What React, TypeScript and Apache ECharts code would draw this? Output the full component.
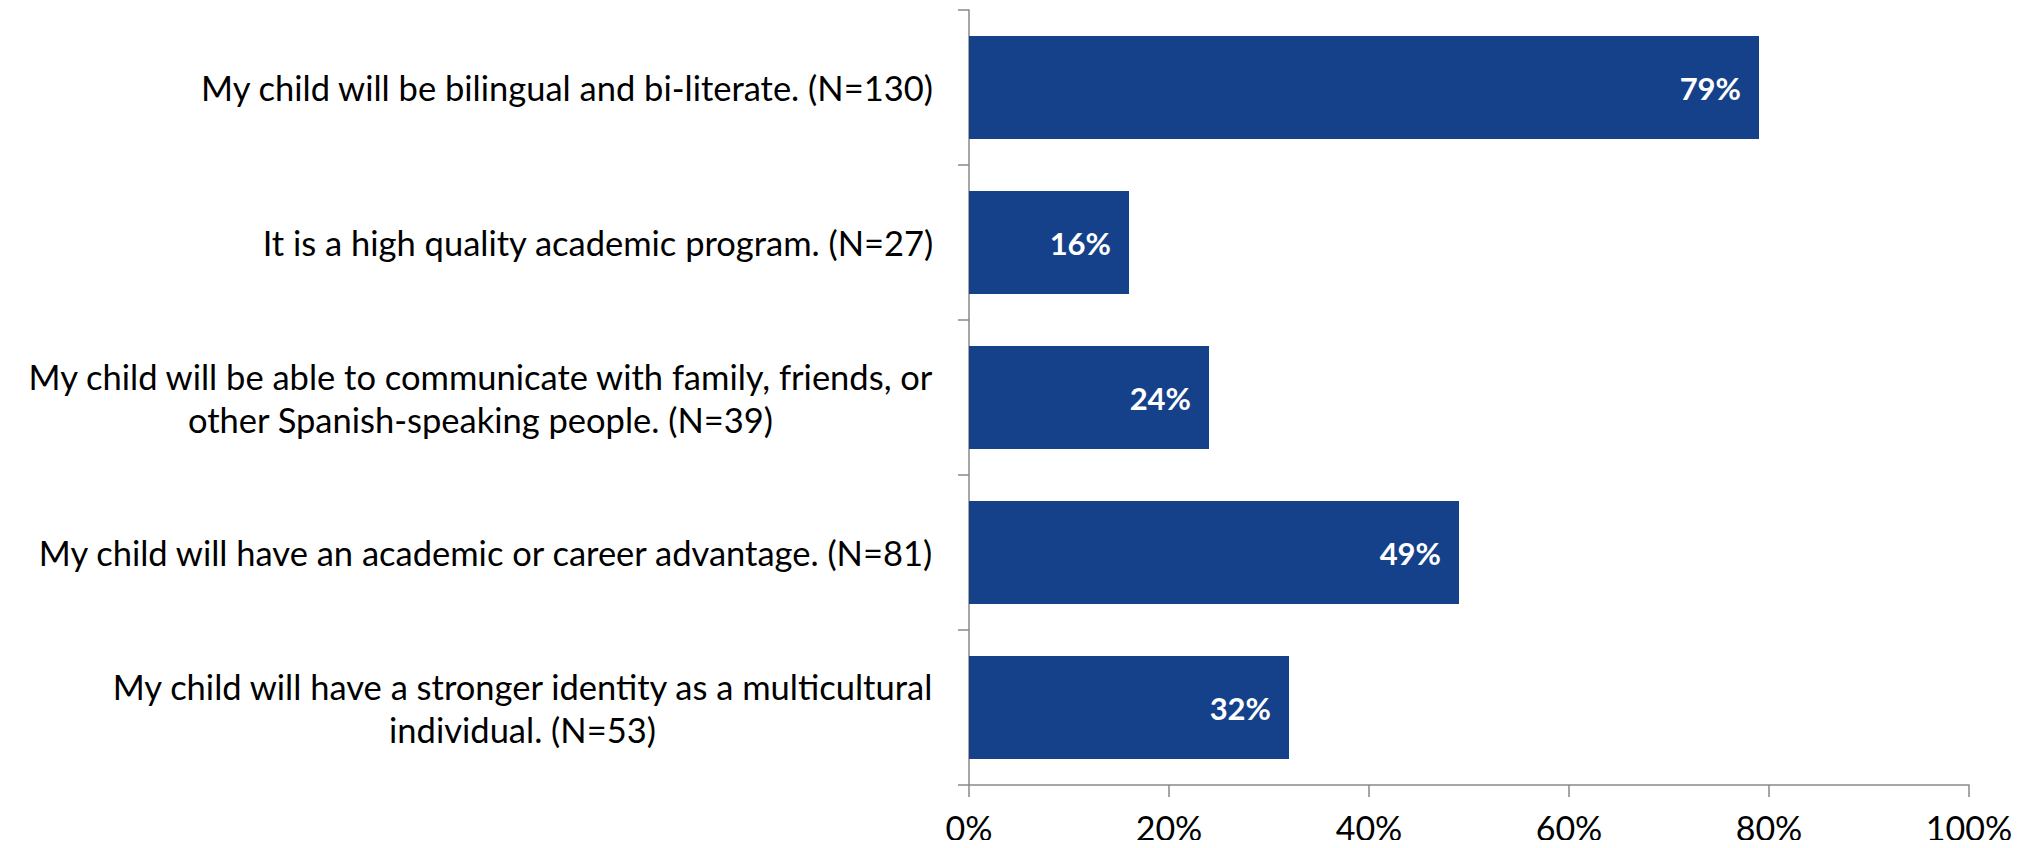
import React, { useEffect, useRef } from "react";
import * as echarts from "echarts";

const categories: string[] = [
  "My child will be bilingual and bi-literate. (N=130)",
  "It is a high quality academic program. (N=27)",
  "My child will be able to communicate with family, friends, or\nother Spanish-speaking people. (N=39)",
  "My child will have an academic or career advantage. (N=81)",
  "My child will have a stronger identity as a multicultural\nindividual. (N=53)",
];
const values: number[] = [79, 16, 24, 49, 32];
const xTicks: number[] = [0, 20, 40, 60, 80, 100];

const FONT = "Lato";
const CAT_SIZE = 34.5;
const TICK_SIZE = 34;
const BAR_COLOR = "#15418A";
const AXIS_COLOR = "#898989";

function measure(text: string, size: number, weight = "normal"): number {
  const c = document.createElement("canvas");
  const ctx = c.getContext("2d");
  if (!ctx) return text.length * size * 0.5;
  ctx.font = `${weight} ${size}px ${FONT}`;
  return ctx.measureText(text).width;
}

export default function App() {
  const ref = useRef<HTMLDivElement>(null);
  useEffect(() => {
    if (!ref.current) return;
    const chart = echarts.init(ref.current, undefined, { renderer: "svg" });
    const rich: Record<string, any> = {};
    categories.forEach((cat, i) => {
      const lines = cat.split("\n");
      const w = Math.max(...lines.map((l) => measure(l, CAT_SIZE)));
      rich["r" + i] = {
        width: Math.ceil(w) + 2,
        align: "center",
        fontSize: CAT_SIZE,
        fontFamily: FONT,
        color: "#000",
        lineHeight: 43,
      };
    });
    chart.setOption({
      animation: false,
      backgroundColor: "#fff",
      grid: { left: 969, right: 61, top: 10, bottom: 63, containLabel: false },
      xAxis: {
        type: "value",
        min: 0,
        max: 100,
        interval: 20,
        splitLine: { show: false },
        axisLine: { show: true, lineStyle: { color: AXIS_COLOR, width: 1.5 } },
        axisTick: { show: true, length: 12, lineStyle: { color: AXIS_COLOR, width: 1.5 } },
        axisLabel: {
          margin: 24,
          fontSize: TICK_SIZE,
          fontFamily: FONT,
          color: "#000",
          lineHeight: 36,
          formatter: (v: number) => (xTicks.includes(v) ? v + "%" : ""),
        },
      },
      yAxis: {
        type: "category",
        data: categories,
        inverse: true,
        axisLine: { show: true, lineStyle: { color: AXIS_COLOR, width: 1.5 } },
        axisTick: { show: true, length: 11, alignWithLabel: false, lineStyle: { color: AXIS_COLOR, width: 1.5 } },
        axisLabel: {
          margin: 34,
          align: "right",
          fontSize: CAT_SIZE,
          fontFamily: FONT,
          color: "#000",
          lineHeight: 43,
          formatter: (value: string, index: number) =>
            value
              .split("\n")
              .map((l) => `{r${index}|${l}}`)
              .join("\n"),
          rich,
        },
      },
      series: [
        {
          type: "bar",
          data: values,
          barCategoryGap: "33.5%",
          itemStyle: { color: BAR_COLOR },
          label: {
            show: true,
            position: "insideRight",
            distance: 18,
            color: "#fff",
            fontWeight: "bold",
            fontSize: 31,
            fontFamily: FONT,
            formatter: (p: any) => p.value + "%",
          },
        },
      ],
    });
    return () => chart.dispose();
  }, []);
  return <div ref={ref} style={{ width: 2030, height: 848, margin: -8 }} />;
}
